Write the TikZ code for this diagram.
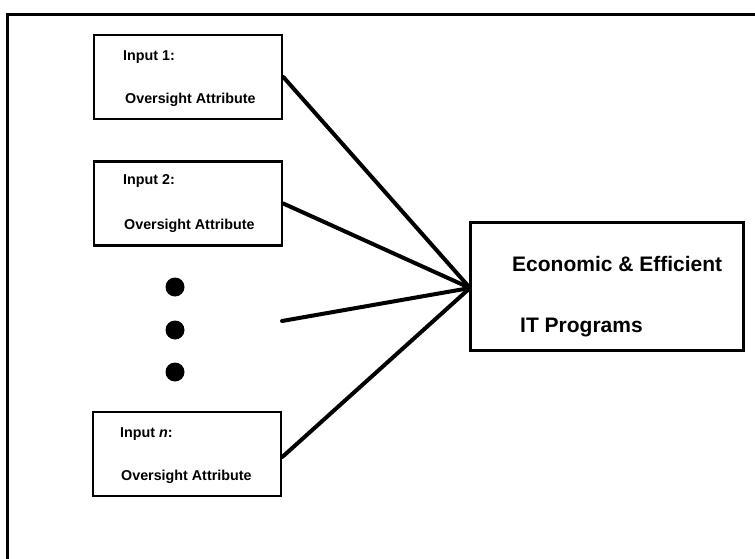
\documentclass[tikz,border=0pt]{standalone}
\usepackage{fontspec}
\setmainfont{Liberation Sans}
\begin{document}
\begin{tikzpicture}[x=1pt,y=-1pt,
  inbox/.style={draw, line width=2.6pt, minimum width=188pt, minimum height=84pt, inner sep=0pt},
  outbox/.style={draw, line width=3pt, minimum width=273pt, minimum height=128pt, inner sep=0pt},
  small/.style={anchor=west, inner sep=0pt, font=\fontsize{14.3}{15}\bfseries\selectfont},
  big/.style={anchor=west, inner sep=0pt, font=\fontsize{21}{24}\bfseries\selectfont},
  feed/.style={line width=4pt, line cap=round},
  dot/.style={circle, fill=black, minimum size=19pt, inner sep=0pt}]
\useasboundingbox (0,0) rectangle (755,559);
% outer frame (open to the right and bottom)
\draw[line width=3pt] (7,565) -- (7,15) -- (765,15);
% input boxes
\node[inbox] (b1) at (188,77) {};
\node[inbox] (b2) at (188,203.5) {};
\node[inbox] (bn) at (187,454) {};
\node[small] (t1a) at (123,57) {Input 1:};
\node[small] (t1b) at (125,100) {Oversight Attribute};
\node[small] (t2a) at (123,181) {Input 2:};
\node[small] (t2b) at (124,226) {Oversight Attribute};
\node[small] (tna) at (120,434) {Input \textit{n}:};
\node[small] (tnb) at (121,477) {Oversight Attribute};
% ellipsis dots
\node[dot] (d1) at (175,287) {};
\node[dot] (d2) at (175,330) {};
\node[dot] (d3) at (175,372) {};
% output box
\node[outbox] (out) at (606.5,286) {};
\node[big] (o1) at (512,264) {Economic \& Efficient};
\node[big] (o2) at (520,327) {IT Programs};
% connectors
\coordinate (hub) at (470,288);
\coordinate (mid) at (282,321);
\draw[feed] (b1.east) -- (hub);
\draw[feed] (b2.east) -- (hub);
\draw[feed] (mid) -- (hub);
\draw[feed] ([yshift=-3pt]bn.east) -- (hub);
\end{tikzpicture}
\end{document}
